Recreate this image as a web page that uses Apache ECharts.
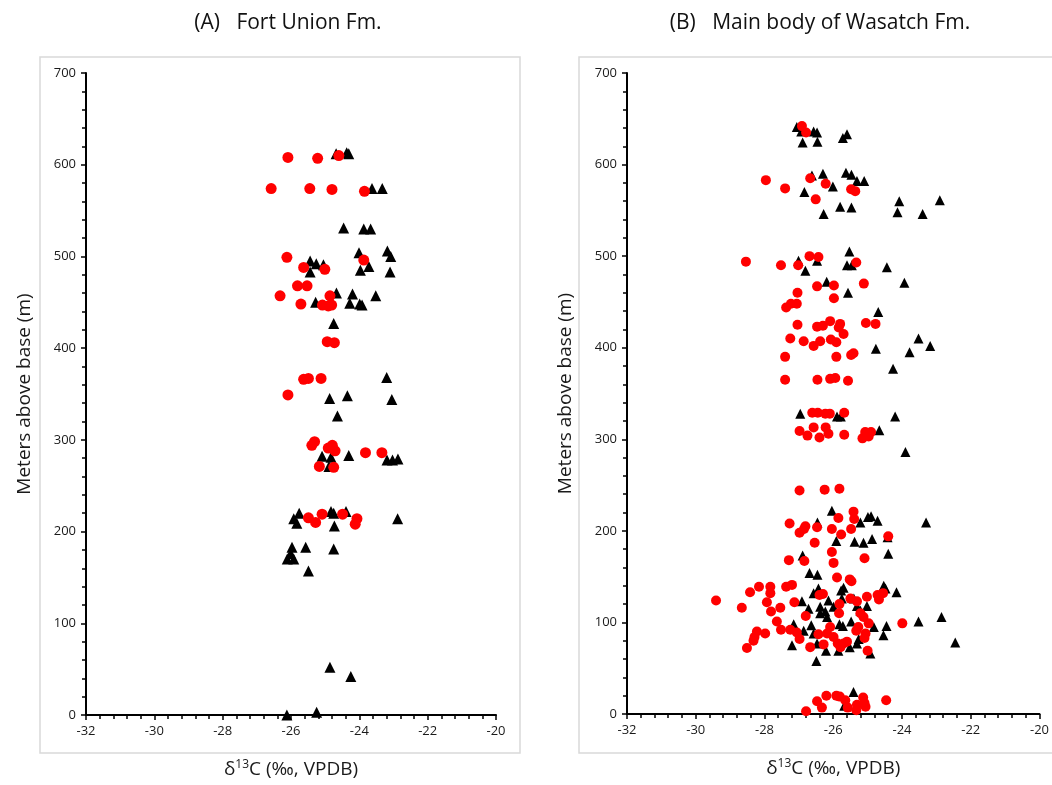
<!DOCTYPE html>
<html>
<head>
<meta charset="utf-8">
<script src="https://cdn.jsdelivr.net/npm/echarts@6/dist/echarts.min.js"></script>
<style>
  html, body { margin: 0; background: #fff; }
  #chart { width: 1052px; height: 785px; }
</style>
</head>
<body>
<div id="chart"></div>
<script>
// [delta13C, meters above base]
const fortUnionRed = [
  [-26.09, 608], [-25.22, 607], [-24.60, 610], [-26.58, 574], [-25.45, 574], [-24.80, 573], [-23.85, 571],
  [-26.12, 499], [-25.63, 488], [-25.01, 486], [-23.87, 496], [-25.81, 468], [-25.53, 468], [-26.32, 457],
  [-25.71, 448], [-24.86, 457], [-25.08, 447], [-24.91, 446], [-24.81, 447], [-24.94, 407], [-24.73, 406],
  [-25.63, 366], [-25.49, 367], [-25.12, 367], [-26.09, 349], [-25.39, 294], [-25.31, 298], [-24.91, 291],
  [-24.79, 294], [-24.71, 288], [-23.82, 286], [-23.34, 286], [-25.17, 271], [-24.75, 270], [-25.49, 215],
  [-25.28, 210], [-25.09, 219], [-24.49, 219], [-24.07, 214], [-24.12, 208]
];
const fortUnionBlack = [
  [-24.68, 612], [-24.37, 613], [-24.31, 612], [-23.63, 574], [-23.33, 574], [-24.46, 531], [-23.87, 530],
  [-23.67, 530], [-25.44, 495], [-25.26, 492], [-25.44, 483], [-25.05, 491], [-24.01, 504], [-23.18, 506],
  [-23.08, 500], [-23.97, 485], [-23.72, 489], [-23.10, 483], [-25.28, 450], [-24.67, 460], [-24.20, 459],
  [-24.28, 449], [-23.99, 448], [-23.92, 447], [-23.52, 457], [-24.75, 427], [-23.20, 368], [-24.87, 345],
  [-24.35, 348], [-23.05, 344], [-24.64, 326], [-25.09, 282], [-24.83, 281], [-24.31, 283], [-23.19, 278],
  [-23.03, 278], [-22.87, 279], [-24.89, 271], [-25.92, 214], [-25.76, 220], [-25.83, 209], [-24.83, 222],
  [-24.75, 220], [-24.39, 222], [-24.73, 206], [-22.88, 214], [-25.97, 183], [-25.57, 183], [-26.01, 176],
  [-26.11, 170], [-25.92, 170], [-24.75, 181], [-25.49, 157], [-24.86, 52], [-24.25, 42], [-26.12, 0],
  [-25.25, 3]
];
const wasatchRed = [
  [-26.91, 642], [-26.79, 635],
  [-27.96, 583], [-27.40, 574], [-26.67, 585], [-26.22, 579], [-26.51, 562], [-25.48, 573], [-25.36, 571],
  [-28.54, 494], [-27.52, 490], [-27.02, 490], [-26.69, 500], [-26.43, 499], [-25.33, 493], [-26.47, 467],
  [-25.98, 468], [-25.11, 470], [-25.98, 454], [-27.04, 460], [-27.37, 444], [-27.23, 448], [-27.06, 448],
  [-27.04, 425], [-26.47, 423], [-26.30, 424], [-26.09, 429], [-25.80, 426], [-25.84, 422], [-25.70, 415],
  [-25.05, 427], [-24.77, 426],
  [-27.25, 410], [-26.86, 407], [-26.57, 402], [-26.38, 407], [-26.07, 409], [-25.91, 406],
  [-27.40, 390], [-25.91, 390], [-25.48, 392], [-25.41, 394],
  [-27.40, 365], [-26.46, 365], [-26.09, 366], [-25.94, 367], [-25.57, 364],
  [-26.61, 329], [-26.45, 329], [-26.23, 328], [-26.10, 328], [-25.68, 329],
  [-26.98, 309], [-26.75, 304], [-26.57, 313], [-26.40, 302], [-26.22, 313], [-26.14, 306], [-25.68, 305],
  [-25.15, 301], [-25.07, 308], [-24.90, 308], [-24.97, 303],
  [-26.98, 244], [-26.25, 245], [-25.82, 246],
  [-25.41, 221], [-25.39, 213], [-25.85, 214], [-27.27, 208], [-26.81, 205], [-26.85, 202], [-26.47, 204],
  [-26.04, 202], [-25.77, 196], [-25.48, 202], [-24.40, 194], [-26.98, 198], [-26.54, 187], [-26.04, 177],
  [-27.29, 168], [-26.84, 167], [-25.99, 165], [-25.09, 170], [-25.89, 149], [-25.52, 147], [-25.47, 145],
  [-29.41, 124], [-28.66, 116], [-28.42, 133], [-28.16, 139], [-27.83, 139], [-27.83, 132], [-27.93, 122],
  [-27.81, 112], [-27.54, 116], [-27.37, 139], [-27.20, 141], [-27.13, 122], [-27.64, 101], [-27.52, 92],
  [-27.25, 92], [-27.06, 89], [-26.98, 82], [-27.98, 88], [-28.22, 90], [-28.29, 84], [-28.32, 80],
  [-28.51, 72], [-26.80, 107], [-26.67, 73],
  [-26.40, 130], [-26.30, 131], [-25.82, 120], [-25.83, 110], [-25.50, 126], [-25.31, 123], [-25.02, 128],
  [-24.71, 130], [-24.55, 132], [-24.67, 125], [-25.21, 110], [-25.12, 106], [-24.97, 99], [-25.06, 88],
  [-25.09, 83], [-25.00, 69], [-23.99, 99], [-26.09, 95], [-26.18, 88], [-26.43, 87], [-25.99, 84],
  [-26.28, 76], [-25.87, 77], [-25.70, 77], [-25.60, 79], [-25.79, 73], [-25.33, 91], [-25.27, 95],
  [-26.79, 3], [-26.47, 14], [-26.33, 7], [-26.20, 20], [-25.91, 20], [-25.81, 19], [-25.65, 15],
  [-25.58, 7], [-25.33, 4], [-25.31, 10], [-25.13, 18], [-25.09, 12], [-25.06, 8], [-24.46, 15]
];
const wasatchBlack = [
  [-27.06, 641], [-26.93, 636], [-26.57, 636], [-26.47, 635], [-26.89, 624], [-26.46, 625], [-25.72, 629],
  [-25.60, 633],
  [-26.62, 588], [-26.30, 590], [-26.01, 576], [-25.63, 591], [-25.47, 589], [-25.31, 582], [-25.10, 582],
  [-26.84, 570], [-26.28, 546], [-25.80, 554], [-25.47, 553], [-24.08, 560], [-22.90, 561], [-24.13, 548],
  [-23.40, 546],
  [-25.53, 505], [-27.01, 495], [-26.47, 495], [-25.60, 490], [-25.46, 490], [-24.44, 488], [-26.81, 484],
  [-26.19, 472], [-23.93, 471], [-25.57, 460], [-24.69, 439],
  [-23.52, 410], [-24.76, 399], [-23.78, 395], [-23.18, 402], [-24.26, 377],
  [-26.96, 328], [-25.89, 325], [-25.78, 325], [-24.20, 325], [-24.66, 310], [-23.90, 286],
  [-26.04, 222], [-25.21, 209], [-24.99, 215], [-24.90, 216], [-24.71, 211], [-23.30, 209], [-26.46, 209],
  [-25.91, 189], [-25.38, 188], [-25.12, 187], [-24.87, 191], [-24.42, 193], [-24.40, 175], [-26.89, 173],
  [-26.69, 154], [-26.46, 152],
  [-26.91, 123], [-26.72, 115], [-26.57, 132], [-26.43, 137], [-26.38, 117], [-26.38, 110], [-26.23, 112],
  [-26.18, 106], [-26.14, 124], [-25.99, 117], [-25.77, 135], [-25.70, 138], [-25.75, 126], [-25.82, 98],
  [-25.72, 96], [-25.48, 101], [-25.40, 126], [-25.31, 118], [-25.21, 113], [-25.02, 118], [-24.53, 140],
  [-24.48, 137], [-24.16, 133], [-24.82, 95], [-24.45, 96], [-24.54, 86], [-23.52, 101], [-22.85, 106],
  [-22.45, 78], [-27.15, 98], [-27.20, 75], [-26.86, 91], [-26.64, 97], [-26.57, 88], [-26.47, 77],
  [-26.21, 69], [-26.49, 58], [-25.85, 69], [-25.52, 73], [-25.31, 77], [-25.26, 82], [-24.92, 66],
  [-25.41, 24], [-25.68, 9]
];
const panelTitles = ["(A)   Fort Union Fm.", "(B)   Main body of Wasatch Fm."];
const xTitle = "{n|δ}{sup|13}{n|C (‰, VPDB)}";
const yTitle = "Meters above base (m)";

const FONT = "'Open Sans', 'Noto Sans', sans-serif";
const chart = echarts.init(document.getElementById("chart"));

function xAxisFor(gridIndex) {
  return {
    gridIndex,
    type: "value",
    min: -32,
    max: -20,
    interval: 2,
    name: xTitle,
    nameLocation: "middle",
    nameGap: 44,
    nameTextStyle: {
      rich: {
        n: { fontFamily: FONT, fontSize: 19, color: "#1a1a1a" },
        sup: { fontFamily: FONT, fontSize: 12, color: "#1a1a1a", verticalAlign: "top", padding: [0, 0, 10, 0] }
      }
    },
    axisLine: { onZero: false, lineStyle: { color: "#000", width: 2 } },
    axisTick: { inside: false, length: 5, lineStyle: { color: "#000", width: 1.5 } },
    minorTick: { show: true, splitNumber: 5, length: 4, lineStyle: { color: "#000", width: 1.5 } },
    axisLabel: { fontFamily: FONT, fontSize: 13, color: "#1a1a1a", margin: 10 },
    splitLine: { show: false }
  };
}
function yAxisFor(gridIndex) {
  return {
    gridIndex,
    type: "value",
    min: 0,
    max: 700,
    interval: 100,
    name: yTitle,
    nameLocation: "middle",
    nameGap: 52,
    nameTextStyle: { fontFamily: FONT, fontSize: 19, color: "#1a1a1a" },
    axisLine: { onZero: false, lineStyle: { color: "#000", width: 2 } },
    axisTick: { length: 5, lineStyle: { color: "#000", width: 1.5 } },
    minorTick: { show: true, splitNumber: 5, length: 4, lineStyle: { color: "#000", width: 1.5 } },
    axisLabel: { fontFamily: FONT, fontSize: 13, color: "#1a1a1a", margin: 10 },
    splitLine: { show: false }
  };
}
function scatter(idx, data, symbol, color, size) {
  return {
    type: "scatter",
    xAxisIndex: idx,
    yAxisIndex: idx,
    data,
    symbol,
    symbolSize: size,
    itemStyle: { color, opacity: 1 },
    emphasis: { disabled: true }
  };
}

const option = {
  animation: false,
  backgroundColor: "#fff",
  title: [
    { text: panelTitles[0], left: 283, top: 8, textAlign: "center",
      textStyle: { fontFamily: FONT, fontSize: 21, fontWeight: "normal", color: "#111" } },
    { text: panelTitles[1], left: 815, top: 8, textAlign: "center",
      textStyle: { fontFamily: FONT, fontSize: 21, fontWeight: "normal", color: "#111" } }
  ],
  graphic: [
    { type: "rect", z: -1, shape: { x: 40, y: 57, width: 480, height: 696 },
      style: { fill: "none", stroke: "#d9d9d9", lineWidth: 1.5 } },
    { type: "rect", z: -1, shape: { x: 579, y: 57, width: 480, height: 696 },
      style: { fill: "none", stroke: "#d9d9d9", lineWidth: 1.5 } }
  ],
  grid: [
    { left: 86, top: 73, width: 410, height: 642 },
    { left: 627, top: 73, width: 413, height: 641 }
  ],
  xAxis: [xAxisFor(0), xAxisFor(1)],
  yAxis: [yAxisFor(0), yAxisFor(1)],
  series: [
    scatter(0, fortUnionBlack, "triangle", "#000", 11),
    scatter(0, fortUnionRed, "circle", "#ff0000", 11),
    scatter(1, wasatchBlack, "triangle", "#000", 10),
    scatter(1, wasatchRed, "circle", "#ff0000", 10)
  ]
};
chart.setOption(option);
</script>
</body>
</html>
